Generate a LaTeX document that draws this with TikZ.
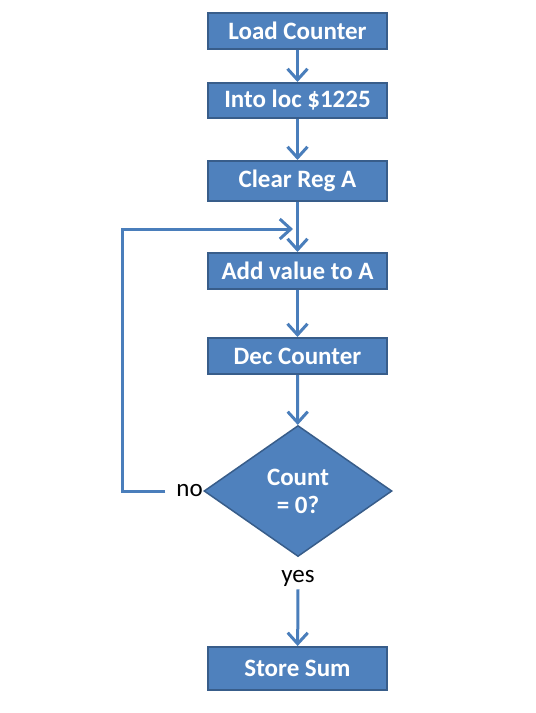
\documentclass[tikz,border=0pt]{standalone}
\usepackage{fontspec}
\setmainfont{Carlito}
\usetikzlibrary{arrows.meta,shapes.geometric}
\definecolor{boxfill}{HTML}{4F81BD}
\definecolor{boxedge}{HTML}{385D8A}
\definecolor{linec}{HTML}{4A7EBB}
\tikzset{
  procbox/.style={draw=boxedge, line width=2pt, fill=boxfill, minimum width=179pt, text=white,
     font=\fontsize{25}{28}\selectfont\bfseries, inner sep=0pt},
  decbox/.style={draw=boxedge, line width=1.5pt, fill=boxfill, diamond, aspect=1.435, minimum width=188pt, minimum height=131pt,
     text=white, font=\fontsize{25}{28}\selectfont\bfseries, align=center, inner sep=0pt},
  lbl/.style={font=\fontsize{25}{27}\selectfont, text=black, inner sep=0pt},
  flow/.style={draw=linec, line width=3pt, -{Straight Barb[length=11pt,width=20pt,line width=3pt]}}
}
\begin{document}
\begin{tikzpicture}[x=1pt,y=-1pt]
\useasboundingbox (0,0) rectangle (536,713);
\node[procbox, minimum height=36pt] (b1) at (297.5,31) {Load Counter};
\node[procbox, minimum height=35pt] (b2) at (297.5,100.5) {Into loc \$1225};
\node[procbox, minimum height=40pt] (b3) at (297.5,181) {Clear Reg A};
\node[procbox, minimum height=36pt] (b4) at (297.5,271) {Add value to A};
\node[procbox, minimum height=36pt] (b5) at (297.5,356) {Dec Counter};
\node[decbox] (d) at (298,491) {Count\\= 0?};
\node[procbox, minimum height=43pt] (b6) at (297.5,668.5) {Store Sum};
\node[lbl, anchor=east] (no) at (203,491) {no};
\node[lbl] (yes) at (298,578) {yes};
\coordinate (lc) at (122,229);
\coordinate (lj) at (293,229);
\draw[flow] (b1) -- (b2);
\draw[flow] (b2) -- (b3);
\draw[flow] (b3) -- (b4);
\draw[flow] (b4) -- (b5);
\draw[flow] (b5) -- (d);
\draw[flow] ([yshift=-3pt]yes.south) -- (b6);
\draw[flow] ([xshift=-11pt]no.west) -| (lc) -- (lj);
\end{tikzpicture}
\end{document}
